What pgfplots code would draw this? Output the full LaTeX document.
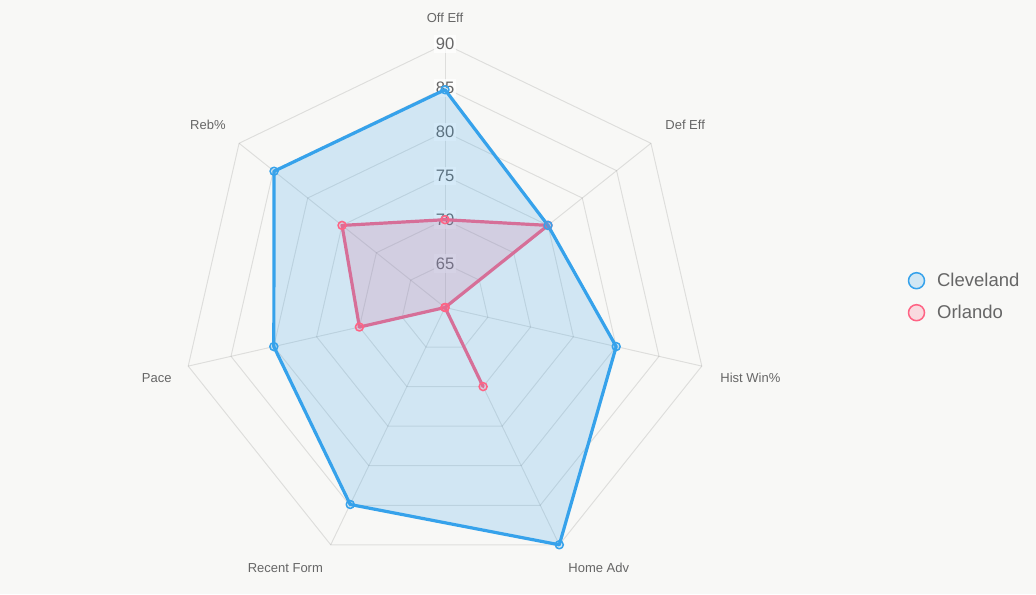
\documentclass[border=0pt]{standalone}
\usepackage{pgfplots}
\usepackage{pgfplotstable}
\pgfplotsset{compat=1.18}
\usepackage{fontspec}
\setmainfont{Liberation Sans}

\definecolor{bg}{RGB}{248,248,246}
\definecolor{cle}{RGB}{54,162,235}
\definecolor{orl}{RGB}{255,99,132}
\definecolor{txt}{RGB}{102,102,102}

% one row per spoke (k = 0 is "Off Eff", clockwise); last row closes the polygon
\pgfplotstableread{
k cle  orl
0 84.8 70
1 75   75
2 80   60
3 90   70
4 84.9 60
5 80   70
6 84.9 75
7 84.8 70
}\radar

% pixels per scale unit, scale runs from 60 (centre) to 90
\newcommand{\rs}{8.78}

\begin{document}
\begin{tikzpicture}
\begin{axis}[
  hide axis, clip=false,
  x=0.5pt, y=0.5pt,
  xmin=-445, xmax=591, ymin=-286.5, ymax=307.5,
]
\fill[bg] (axis cs:-445,-286.5) rectangle (axis cs:591,307.5);
\coordinate (SW) at (axis cs:-445,-286.5);
\coordinate (NE) at (axis cs:591,307.5);

% polygonal grid rings at 65, 70, ..., 90
\pgfplotsinvokeforeach{1,...,6}{
  \draw[black, draw opacity=0.1, line width=0.5pt, shift={(axis cs:0,0)}]
    (90:#1*21.95pt) \foreach \i in {1,...,6} { -- ({90-\i*360/7}:#1*21.95pt) } -- cycle;
}
% spokes
\pgfplotsinvokeforeach{0,...,6}{
  \draw[black, draw opacity=0.1, line width=0.5pt, shift={(axis cs:0,0)}]
    (0:0pt) -- ({90-#1*360/7}:131.7pt);
}
% scale labels with backdrop
\pgfplotsinvokeforeach{65,70,75,80,85,90}{
  \node[fill=white, fill opacity=0.75, text opacity=1, text=txt,
        inner xsep=0.9pt, inner ysep=1.75pt,
        font=\fontsize{8.3}{10}\selectfont]
    at (axis cs:0,{(#1-60)*\rs}) {#1};
}

% Orlando (drawn first, Cleveland lies over it)
\addplot[orl, line width=1.6pt, line join=round, line cap=round,
  fill=orl, fill opacity=0.2, draw opacity=1,
  mark=*, mark size=2pt, mark indices={1,...,7},
  mark options={draw=orl, fill=orl, fill opacity=0.2, line width=0.75pt}]
  table[x expr={(\thisrow{orl}-60)*\rs*sin(\thisrow{k}*360/7)},
        y expr={(\thisrow{orl}-60)*\rs*cos(\thisrow{k}*360/7)}] {\radar};

% Cleveland
\addplot[cle, line width=1.6pt, line join=round, line cap=round,
  fill=cle, fill opacity=0.2, draw opacity=1,
  mark=*, mark size=2pt, mark indices={1,...,7},
  mark options={draw=cle, fill=cle, fill opacity=0.2, line width=0.75pt}]
  table[x expr={(\thisrow{cle}-60)*\rs*sin(\thisrow{k}*360/7)},
        y expr={(\thisrow{cle}-60)*\rs*cos(\thisrow{k}*360/7)}] {\radar};

% spoke names
\begin{scope}[every node/.style={text=txt, inner sep=0pt, font=\fontsize{6.5}{8}\selectfont}]
\node[anchor=base] at (axis cs:0,284.5) {Off Eff};
\node[anchor=base west] at (axis cs:220,177.5) {Def Eff};
\node[anchor=base west] at (axis cs:275,-74.5) {Hist Win\%};
\node[anchor=base west] at (axis cs:123,-265.2) {Home Adv};
\node[anchor=base east] at (axis cs:-121.7,-265.2) {Recent Form};
\node[anchor=base east] at (axis cs:-273,-74.5) {Pace};
\node[anchor=base east] at (axis cs:-219,177.5) {Reb\%};
\end{scope}

% legend
\draw[cle, line width=0.75pt, fill=cle!20!bg] (axis cs:471.5,26.8) circle[radius=4pt];
\draw[orl, line width=0.75pt, fill=orl!20!bg] (axis cs:471.5,-5.2) circle[radius=4pt];
\node[anchor=base west, inner sep=0pt, text=txt, font=\fontsize{9.25}{11}\selectfont]
  at (axis cs:491.7,20.5) {Cleveland};
\node[anchor=base west, inner sep=0pt, text=txt, font=\fontsize{9.25}{11}\selectfont]
  at (axis cs:491.7,-11.5) {Orlando};
\end{axis}
\pgfresetboundingbox
\path[use as bounding box] (SW) rectangle (NE);
\end{tikzpicture}
\end{document}
